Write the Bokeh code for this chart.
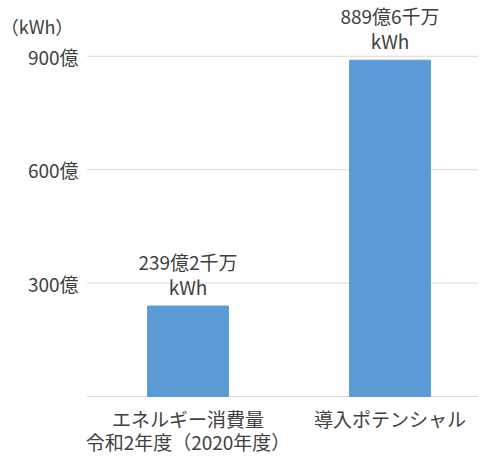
from bokeh.plotting import figure
from bokeh.models import Range1d, ColumnDataSource
from bokeh.core.properties import value
from bokeh.embed import file_html
from bokeh.resources import INLINE

categories = ["エネルギー消費量\n令和2年度（2020年度）", "導入ポテンシャル"]
values = [239.2, 889.6]
value_labels = ["239億2千万", "889億6千万"]
value_unit = "kWh"
ytick_values = [300, 600, 900]
ytick_labels = ["300億", "600億", "900億"]
unit_label = "（kWh）"

FONT = value("Noto Sans CJK JP")
TXT = "#404040"
GRID = "#D9D9D9"
FS = "19px"

xs = [0.5 + i for i in range(len(categories))]
X0, X1 = -0.4282, 1.9381
Y0, Y1 = -156.1, 1047.6

p = figure(width=478, height=455, output_backend="svg", toolbar_location=None,
           x_range=Range1d(X0, X1), y_range=Range1d(Y0, Y1),
           min_border=0, min_border_left=0, min_border_right=0,
           min_border_top=0, min_border_bottom=0)
p.axis.visible = False
p.grid.visible = False
p.outline_line_color = None
p.background_fill_color = "white"
p.border_fill_color = "white"

# gridlines and baseline (from tick values)
grid_y = [0] + ytick_values
p.segment(x0=[0.0] * len(grid_y), x1=[X1] * len(grid_y), y0=grid_y, y1=grid_y,
          line_color=GRID, line_width=1)

# bars
src = ColumnDataSource(dict(x=xs, top=values, lab=value_labels,
                            unit=[value_unit] * len(xs)))
p.vbar(x="x", top="top", width=0.40, bottom=0, color="#5B9BD5", source=src)

# value labels
p.text(x="x", y="top", text="lab", source=src, text_align="center", text_baseline="middle",
       y_offset=-45, text_font=FONT, text_font_size=FS, text_color=TXT)
p.text(x="x", y="top", text="unit", source=src, text_align="center", text_baseline="middle",
       y_offset=-20, text_font=FONT, text_font_size=FS, text_color=TXT)

# y tick labels
p.text(x=[-0.042] * len(ytick_values), y=ytick_values, text=ytick_labels,
       text_align="right", text_baseline="middle",
       text_font=FONT, text_font_size=FS, text_color=TXT)

# category labels (two lines)
line1 = [c.split("\n")[0] for c in categories]
line2 = [c.split("\n")[1] if "\n" in c else "" for c in categories]
p.text(x=xs, y=[0] * len(xs), text=line1, text_align="center", text_baseline="middle",
       y_offset=22, text_font=FONT, text_font_size=FS, text_color=TXT)
p.text(x=xs, y=[0] * len(xs), text=line2, text_align="center", text_baseline="middle",
       y_offset=45, text_font=FONT, text_font_size=FS, text_color=TXT)

# unit label
p.text(x=[X0 + 0.001], y=[979], text=[unit_label], text_align="left", text_baseline="middle",
       text_font=FONT, text_font_size="18px", text_color=TXT)

open("out.html", "w").write(file_html(p, INLINE))
